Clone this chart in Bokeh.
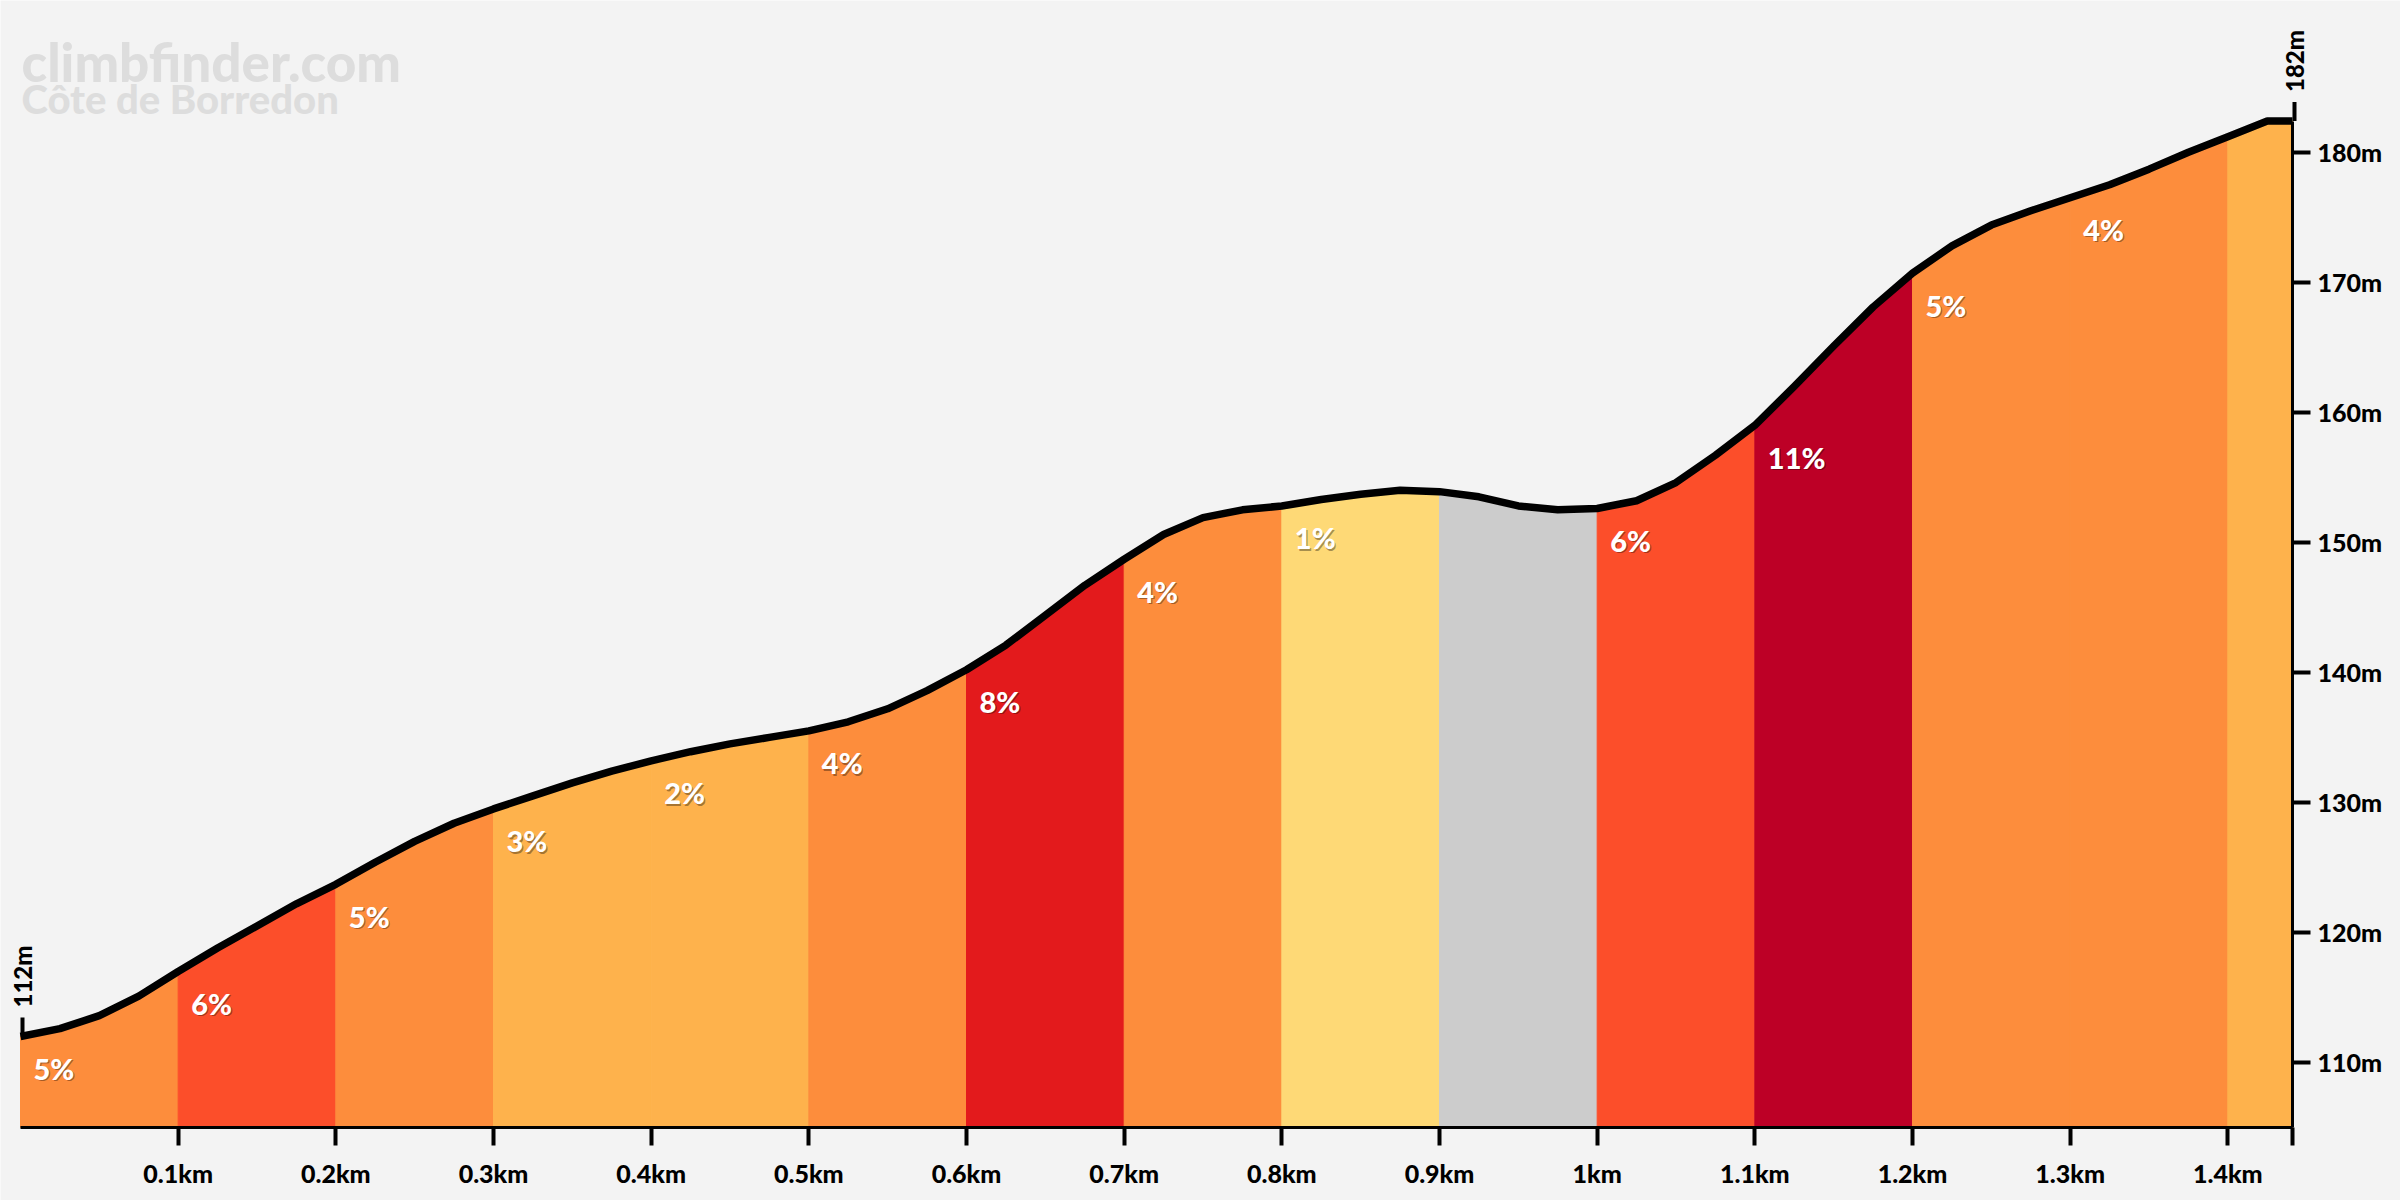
import numpy as np
from bokeh.plotting import figure
from bokeh.models import FixedTicker, CustomJSTickFormatter, Range1d
from bokeh.core.properties import value
from bokeh.embed import file_html
from bokeh.resources import INLINE

# Elevation profile, sampled every 25 m
dist_km = [0.000, 0.025, 0.050, 0.075, 0.100, 0.125, 0.150, 0.175, 0.200, 0.225,
           0.250, 0.275, 0.300, 0.325, 0.350, 0.375, 0.400, 0.425, 0.450, 0.475,
           0.500, 0.525, 0.550, 0.575, 0.600, 0.625, 0.650, 0.675, 0.700, 0.725,
           0.750, 0.775, 0.800, 0.825, 0.850, 0.875, 0.900, 0.925, 0.950, 0.975,
           1.000, 1.025, 1.050, 1.075, 1.100, 1.125, 1.150, 1.175, 1.200, 1.225,
           1.250, 1.275, 1.300, 1.325, 1.350, 1.375, 1.400, 1.425, 1.441]
elev_m = [112.0, 112.6, 113.6, 115.1, 117.0, 118.8, 120.5, 122.2, 123.7, 125.4,
          127.0, 128.4, 129.5, 130.5, 131.5, 132.4, 133.2, 133.9, 134.5, 135.0,
          135.5, 136.2, 137.2, 138.6, 140.2, 142.1, 144.4, 146.7, 148.7, 150.6,
          151.9, 152.5, 152.8, 153.3, 153.7, 154.0, 153.9, 153.5, 152.8, 152.5,
          152.6, 153.2, 154.6, 156.7, 159.0, 162.0, 165.1, 168.1, 170.7, 172.8,
          174.4, 175.5, 176.5, 177.5, 178.7, 180.0, 181.2, 182.4, 182.4]

# 100 m sections with their average gradient
seg_start_km = [0.0, 0.1, 0.2, 0.3, 0.4, 0.5, 0.6, 0.7, 0.8, 0.9, 1.0, 1.1, 1.2, 1.3, 1.4]
seg_end_km = [0.1, 0.2, 0.3, 0.4, 0.5, 0.6, 0.7, 0.8, 0.9, 1.0, 1.1, 1.2, 1.3, 1.4, 1.441]
seg_grade = ["5%", "6%", "5%", "3%", "2%", "4%", "8%", "4%", "1%", "",
             "6%", "11%", "5%", "4%", ""]
seg_color = ["#fd8d3c", "#fc4e2a", "#fd8d3c", "#feb24c", "#feb24c", "#fd8d3c",
             "#e31a1c", "#fd8d3c", "#fed976", "#cccccc", "#fc4e2a", "#bd0026",
             "#fd8d3c", "#fd8d3c", "#feb24c"]

x_ticks_km = [0.1, 0.2, 0.3, 0.4, 0.5, 0.6, 0.7, 0.8, 0.9, 1.0, 1.1, 1.2, 1.3, 1.4]
y_ticks_m = [110, 120, 130, 140, 150, 160, 170, 180]

site_name = "climbfinder.com"
climb_name = "Côte de Borredon"

HEAVY = "Lato Black"
FONT = value(HEAVY)
BG = "#f3f3f3"

# canvas layout (pixels): chart area inset inside the full canvas
W, H = 2400, 1200
PAD_LEFT, PAD_RIGHT, PAD_BOTTOM = 20, 108, 73
BASE_M, TOP_M = 105.0, 191.67
X_END = dist_km[-1]
px_km = (W - PAD_LEFT - PAD_RIGHT) / X_END
px_m = (H - PAD_BOTTOM) / (TOP_M - BASE_M)

d = np.array(dist_km)
e = np.array(elev_m)

p = figure(width=W, height=H, output_backend="svg", toolbar_location=None,
           x_range=Range1d(-PAD_LEFT / px_km, X_END + PAD_RIGHT / px_km),
           y_range=Range1d(BASE_M - PAD_BOTTOM / px_m, TOP_M),
           y_axis_location="right",
           min_border_left=0, min_border_right=0,
           min_border_top=0, min_border_bottom=0)
p.background_fill_color = BG
p.border_fill_color = BG
p.outline_line_color = None
p.grid.visible = False

# coloured sections under the profile
xs, ys = [], []
for s, t in zip(seg_start_km, seg_end_km):
    inner = (d > s + 1e-9) & (d < t - 1e-9)
    sx = [s] + list(d[inner]) + [t]
    sy = [float(np.interp(s, d, e))] + list(e[inner]) + [float(np.interp(t, d, e))]
    xs.append([s] + sx + [t])
    ys.append([BASE_M] + sy + [BASE_M])
p.patches(xs, ys, fill_color=seg_color, line_color=seg_color, line_width=1)

# profile outline
p.line(d, e, line_color="black", line_width=7.5, line_join="round")

# gradient labels
lab_x, lab_y, lab_t = [], [], []
for s, g in zip(seg_start_km, seg_grade):
    if g:
        lab_x.append(s + 13 / px_km)
        lab_y.append(float(np.interp(s, d, e)) - 32 / px_m)
        lab_t.append(g)
lab_x = np.array(lab_x)
lab_y = np.array(lab_y)
p.text(lab_x + 1.2 / px_km, lab_y - 1.2 / px_m, text=lab_t, text_color="black",
       text_alpha=0.35, text_font=FONT,
       text_font_size=value("29px"), text_align="left", text_baseline="middle")
p.text(lab_x, lab_y, text=lab_t, text_color="white", text_font=FONT,
       text_font_size=value("29px"), text_align="left", text_baseline="middle")

# start / finish elevation markers
mk_x = [d[0] + 2 / px_km, d[-1] + 2 / px_km]
mk_y = [e[0], e[-1]]
p.segment(x0=mk_x, y0=mk_y, x1=mk_x, y1=[v + 19 / px_m for v in mk_y],
          line_color="black", line_width=4)
p.text(mk_x, [v + 29 / px_m for v in mk_y], text=[f"{round(v)}m" for v in mk_y],
       angle=np.pi / 2, text_align="left", text_baseline="middle",
       text_color="black", text_font=FONT, text_font_size=value("24px"))

# site and climb name
p.text([1 / px_km], [TOP_M - 61 / px_m], text=[site_name], text_color="#dddddd",
       text_font=FONT, text_font_size=value("53px"),
       text_align="left", text_baseline="alphabetic")
p.text([1 / px_km], [TOP_M - 98 / px_m], text=[climb_name], text_color="#dddddd",
       text_font=FONT, text_font_size=value("40px"),
       text_align="left", text_baseline="alphabetic")

# axes, pinned to the chart area
xa = p.xaxis[0]
xa.fixed_location = BASE_M
xa.bounds = (0, X_END)
xa.ticker = FixedTicker(ticks=x_ticks_km + [X_END])
xa.formatter = CustomJSTickFormatter(
    code=f"return tick > {x_ticks_km[-1] + 0.01} ? '' : (Math.round(tick * 10) / 10) + 'km';")
ya = p.yaxis[0]
ya.fixed_location = X_END
ya.bounds = (BASE_M, elev_m[-1])
ya.ticker = FixedTicker(ticks=y_ticks_m)
ya.formatter = CustomJSTickFormatter(code="return tick + 'm';")
for ax in (xa, ya):
    ax.axis_line_color = "black"
    ax.axis_line_width = 3
    ax.major_tick_line_color = "black"
    ax.major_tick_line_width = 4
    ax.major_tick_out = 18
    ax.major_tick_in = 0
    ax.minor_tick_line_color = None
    ax.major_label_text_font = HEAVY
    ax.major_label_text_font_style = "normal"
    ax.major_label_text_color = "black"
xa.major_label_text_font_size = "25px"
ya.major_label_text_font_size = "25px"
xa.major_label_standoff = 12
ya.major_label_standoff = 7

open("out.html", "w").write(file_html(p, INLINE))
